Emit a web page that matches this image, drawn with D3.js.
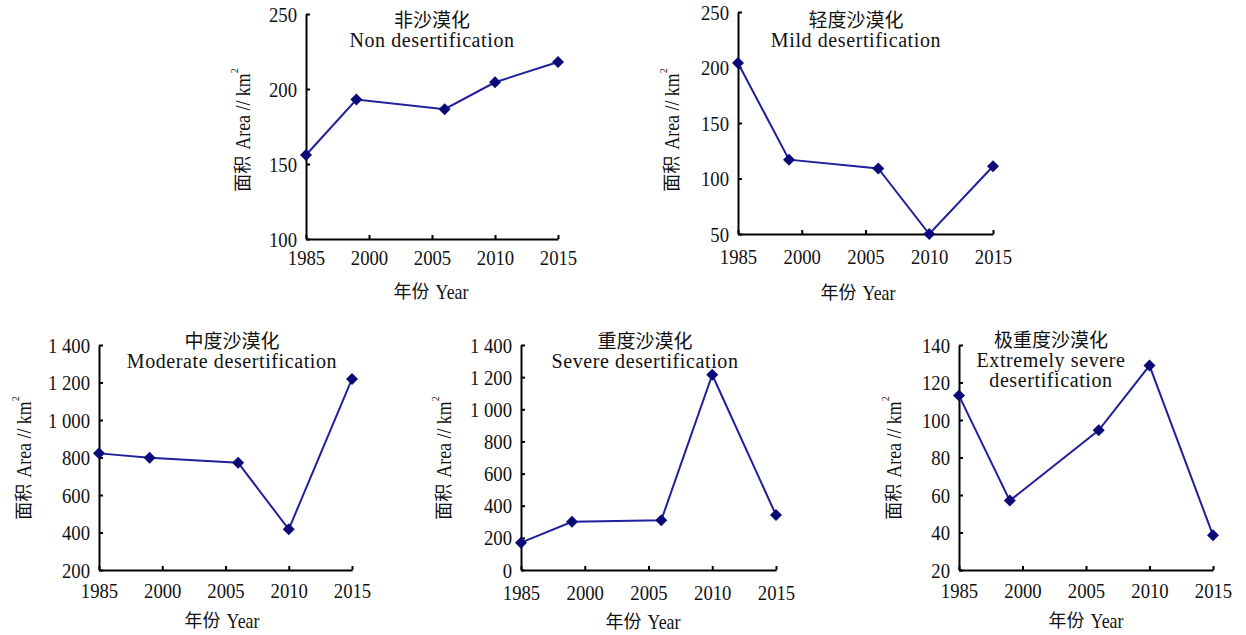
<!DOCTYPE html>
<meta charset="utf-8">
<style>
    body { margin: 0; background: #fff; }
    .cjk { font-family: "Noto Sans CJK SC", sans-serif; fill: #111; }
    .lat { font-family: "Liberation Serif", serif; fill: #111; }
    .axis path, .axis line { stroke: #000; stroke-width: 2px; }
    .line { fill: none; stroke: #20209c; stroke-width: 2px; }
    .dot { fill: #0b0b78; }
</style>
<svg width="1246" height="635"></svg>
<script src="https://d3js.org/d3.v7.min.js"></script>
<script>
    // x axis labels (evenly spaced) and the survey years of the points
    const tickYears = [1985, 2000, 2005, 2010, 2015];
    const years = [1985, 1997, 2006, 2010, 2015];

    // area, km2
    const nonDesert = [156, 193, 186.5, 204.5, 218];
    const mildDesert = [204, 117, 109, 50, 111];
    const moderateDesert = [822, 799, 772, 417, 1219];
    const severeDesert = [170, 300, 309, 1215, 342];
    const extremeDesert = [113, 57, 94.5, 129, 38.5];

    // y tick labels
    const nonTicks = [100, 150, 200, 250];
    const mildTicks = [50, 100, 150, 200, 250];
    const moderateTicks = [200, 400, 600, 800, 1000, 1200, 1400];
    const severeTicks = [0, 200, 400, 600, 800, 1000, 1200, 1400];
    const extremeTicks = [20, 40, 60, 80, 100, 120, 140];

    // titles
    const titlesZh = ["非沙漠化", "轻度沙漠化", "中度沙漠化", "重度沙漠化", "极重度沙漠化"];
    const titlesEn = [["Non desertification"], ["Mild desertification"], ["Moderate desertification"],
        ["Severe desertification"], ["Extremely severe", "desertification"]];

    const series = [nonDesert, mildDesert, moderateDesert, severeDesert, extremeDesert];
    const yTicks = [nonTicks, mildTicks, moderateTicks, severeTicks, extremeTicks];

    // panel layout
    const panels = [
        { x0: 306, x1: 558, yTop: 14, yBot: 239, xPad: 10, titleX: 432, titleY: 20, yTitleX: 243, yTitleY: 130, xTitleX: 431, xTitleY: 292 },
        { x0: 738, x1: 993, yTop: 12, yBot: 234, xPad: 14, titleX: 856, titleY: 20, yTitleX: 672, yTitleY: 130, xTitleX: 858, xTitleY: 293 },
        { x0: 99, x1: 352, yTop: 345, yBot: 570, xPad: 12, titleX: 232, titleY: 341, yTitleX: 24, yTitleY: 458, xTitleX: 222, xTitleY: 621 },
        { x0: 521, x1: 776, yTop: 345, yBot: 570, xPad: 14, titleX: 645, titleY: 341, yTitleX: 444, yTitleY: 458, xTitleX: 643, xTitleY: 622 },
        { x0: 959, x1: 1213, yTop: 345, yBot: 570, xPad: 12, titleX: 1051, titleY: 340, yTitleX: 894, yTitleY: 458, xTitleX: 1086, xTitleY: 621 }
    ];

    const svg = d3.select("svg");
    const tickScale = 0.85;
    const fmt = d3.formatLocale({ decimal: ".", thousands: " ", grouping: [3], currency: ["", ""] }).format(",");

    // text built from pieces (cjk / latin / superscript), centred on cx,cy
    function mixedText(parent, parts, cx, cy, rotate) {
        const g = parent.append("g").attr("transform", `translate(${cx},${cy}) rotate(${rotate || 0})`);
        const inner = g.append("g");
        let cursor = 0;
        parts.forEach(p => {
            cursor += p.gap || 0;
            const sx = p.sx || 1;
            const t = inner.append("text")
                .attr("class", p.cjk ? "cjk" : "lat")
                .style("font-size", p.size + "px")
                .attr("transform", `translate(${cursor},${p.dy || 0}) scale(${sx},1)`)
                .attr("dy", "0.35em")
                .text(p.t);
            cursor += t.node().getComputedTextLength() * sx;
        });
        inner.attr("transform", `translate(${-cursor / 2},0)`);
    }

    panels.forEach((p, i) => {
        const g = svg.append("g");
        const ticks = yTicks[i];

        const x = d3.scaleLinear()
            .domain(tickYears)
            .range(tickYears.map((d, k) => p.x0 + k * (p.x1 - p.x0) / (tickYears.length - 1)));
        const y = d3.scaleLinear()
            .domain([ticks[0], ticks[ticks.length - 1]])
            .range([p.yBot, p.yTop]);

        // axes
        const xg = g.append("g")
            .attr("class", "axis")
            .attr("transform", `translate(0,${p.yBot})`)
            .call(d3.axisBottom(x).tickValues(tickYears).tickSize(-4).tickSizeOuter(0)
                .tickPadding(p.xPad).tickFormat(d3.format("d")));
        xg.selectAll("text")
            .attr("class", "lat")
            .style("font-size", "22px")
            .attr("transform", `scale(${tickScale},1)`);

        const yg = g.append("g")
            .attr("class", "axis")
            .attr("transform", `translate(${p.x0},0)`)
            .call(d3.axisLeft(y).tickValues(ticks).tickSize(-4).tickSizeOuter(0).tickFormat(fmt));
        yg.selectAll("text")
            .attr("class", "lat")
            .style("font-size", "22px")
            .attr("x", -9 / tickScale)
            .attr("transform", `scale(${tickScale},1)`);

        // line and markers
        const pts = years.map((yr, k) => ({ year: yr, value: series[i][k] }));
        const line = d3.line().x(d => x(d.year)).y(d => y(d.value));
        g.append("path").datum(pts).attr("class", "line").attr("d", line);
        g.selectAll(".dot")
            .data(pts)
            .enter().append("path")
            .attr("class", "dot")
            .attr("d", d3.symbol(d3.symbolSquare, 72))
            .attr("transform", d => `translate(${x(d.year)},${y(d.value)}) rotate(45)`);

        // titles
        mixedText(g, [{ t: titlesZh[i], cjk: true, size: 19 }], p.titleX, p.titleY);
        titlesEn[i].forEach((s, k) => {
            g.append("text")
                .attr("class", "lat")
                .style("font-size", "20px")
                .style("letter-spacing", "0.6px")
                .attr("text-anchor", "middle")
                .attr("x", p.titleX)
                .attr("y", p.titleY + 20 * (k + 1))
                .attr("dy", "0.35em")
                .text(s);
        });

        // axis titles
        mixedText(g, [
            { t: "年份", cjk: true, size: 18 },
            { t: "Year", size: 21, sx: 0.85, gap: 6 }
        ], p.xTitleX, p.xTitleY);

        mixedText(g, [
            { t: "面积", cjk: true, size: 18 },
            { t: "Area // km", size: 21, sx: 0.85, gap: 6 },
            { t: "2", size: 10, dy: -9 }
        ], p.yTitleX, p.yTitleY, -90);
    });
</script>
